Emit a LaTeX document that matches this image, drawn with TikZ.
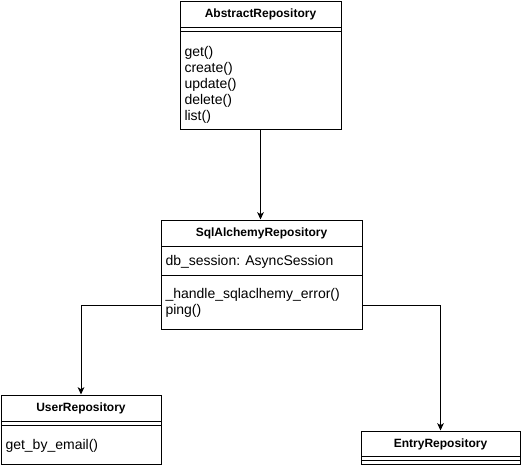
\documentclass[tikz,border=0pt]{standalone}
\usepackage{fontspec}
\setmainfont{Liberation Sans}
\usetikzlibrary{arrows.meta,fit}
\begin{document}
\begin{tikzpicture}[x=0.75pt,y=-0.75pt,line width=0.75pt,
  box/.style={draw,inner sep=0pt,fit={#1}},
  title/.style={font=\bfseries\fontsize{9}{11}\selectfont,inner sep=0pt},
  member/.style={font=\fontsize{10.5}{12}\selectfont,align=left,anchor=west,inner sep=0pt},
  arr/.style={-{Stealth[length=5.5pt,width=5pt,inset=1.5pt]}}]
\useasboundingbox (0,0) rectangle (521,468);
% AbstractRepository
\node[box={(180,1)(341,129)}] (abs) {};
\draw (180,27) -- (341,27);
\draw (180,31) -- (341,31);
\node[title] (absT) at (260.5,14) {AbstractRepository};
\node[member] (absM) at (184,85) {get()\\create()\\update()\\delete()\\list()};
% SqlAlchemyRepository
\node[box={(161,220)(362,329)}] (sql) {};
\draw (161,246) -- (362,246);
\draw (161,275) -- (362,275);
\node[title] (sqlT) at (261.5,233) {SqlAlchemyRepository};
\node[member] (sqlA) at (165,262) {db\_session: AsyncSession};
\node[member] (sqlM) at (165,303) {\_handle\_sqlaclhemy\_error()\\ping()};
% UserRepository
\node[box={(1,395)(161,464)}] (user) {};
\draw (1,421) -- (161,421);
\draw (1,425) -- (161,425);
\node[title] (userT) at (81,408) {UserRepository};
\node[member] (userM) at (5,446) {get\_by\_email()};
% EntryRepository
\node[box={(361,431)(520,464)}] (entry) {};
\draw (361,456) -- (520,456);
\draw (361,460) -- (520,460);
\node[title] (entryT) at (440.5,444) {EntryRepository};
% connectors
\draw[arr] (abs.south) -- (abs.south |- sql.north);
\draw[arr] ([yshift=18pt]sql.south west) -| (user.north);
\draw[arr] ([yshift=18pt]sql.south east) -| (entry.north);
\end{tikzpicture}
\end{document}
